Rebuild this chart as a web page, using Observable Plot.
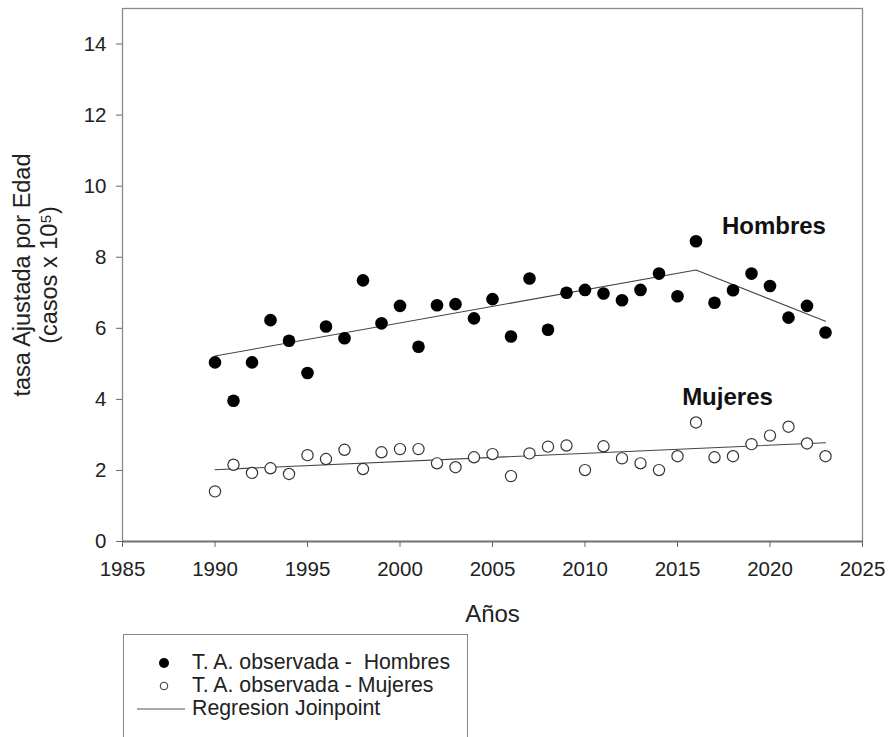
<!DOCTYPE html>
<html><head><meta charset="utf-8">
<script src="https://cdn.jsdelivr.net/npm/d3@7"></script>
<script src="https://cdn.jsdelivr.net/npm/@observablehq/plot@0.6"></script>
<style>
body{margin:0;background:#fff;font-family:"Liberation Sans",Arial,sans-serif;}
#wrap{position:relative;width:889px;height:737px;overflow:hidden;background:#fff;}
#legend{position:absolute;left:123px;top:634px;width:345px;height:130px;border:1.3px solid #888;box-sizing:border-box;font-size:21.3px;color:#222;}
.row{position:absolute;left:0;height:23px;line-height:23px;white-space:pre;}
.row span.t{position:absolute;left:68px;}
.sym{position:absolute;}
</style></head>
<body><div id="wrap"><div id="chart"></div><div id="legend"></div></div>
<script>
const years = [1990,1991,1992,1993,1994,1995,1996,1997,1998,1999,2000,2001,2002,2003,2004,2005,2006,2007,2008,2009,2010,2011,2012,2013,2014,2015,2016,2017,2018,2019,2020,2021,2022,2023];
const hombres = [5.04,3.96,5.04,6.23,5.65,4.74,6.05,5.72,7.35,6.14,6.63,5.48,6.65,6.68,6.28,6.82,5.77,7.40,5.96,7.00,7.08,6.98,6.79,7.08,7.54,6.90,8.45,6.72,7.07,7.54,7.19,6.30,6.63,5.88];
const mujeres = [1.41,2.16,1.93,2.06,1.90,2.43,2.32,2.58,2.04,2.51,2.60,2.60,2.20,2.09,2.37,2.46,1.84,2.48,2.67,2.70,2.01,2.68,2.34,2.20,2.01,2.40,3.35,2.37,2.40,2.74,2.98,3.23,2.76,2.40];
const regYearsH = [1990, 2016, 2023];
const regH = [5.22, 7.64, 6.20];
const regYearsM = [1990, 2023];
const regM = [2.02, 2.78];
const xTicks = [1985,1990,1995,2000,2005,2010,2015,2020,2025];
const yTicks = [0,2,4,6,8,10,12,14];
const seriesNames = ["Hombres", "Mujeres"];
const seriesLabelYear = [2017.4, 2015.25];
const seriesLabelValue = [8.65, 3.85];
const yLabel = "tasa Ajustada por Edad\n(casos x 10\u2075)";
const xLabel = "Años";
const legendItems = ["T. A. observada -  Hombres", "T. A. observada - Mujeres", "Regresion Joinpoint"];

const ptsH = years.map((y,i)=>({year:y, v:hombres[i]}));
const ptsM = years.map((y,i)=>({year:y, v:mujeres[i]}));
const lnH = regYearsH.map((y,i)=>({year:y, v:regH[i]}));
const lnM = regYearsM.map((y,i)=>({year:y, v:regM[i]}));
const lbls = seriesNames.map((n,i)=>({n, year:seriesLabelYear[i], v:seriesLabelValue[i]}));

const chart = Plot.plot({
  width: 889, height: 634,
  marginLeft: 122, marginRight: 27, marginTop: 8, marginBottom: 93,
  style: {fontFamily: '"Liberation Sans", Arial, sans-serif', fontSize: "20.5px", color: "#222", background: "#fff"},
  x: {domain: [1985, 2025]},
  y: {domain: [0, 15]},
  marks: [
    Plot.frame({stroke: "#8a8a8a", strokeWidth: 1.3}),
    Plot.ruleY([0], {stroke: "#777", strokeWidth: 1.8}),
    Plot.axisX({ticks: xTicks, tickFormat: "d", tickSize: 6, tickPadding: 14, stroke: "#666", label: null}),
    Plot.axisY({ticks: yTicks, tickFormat: "d", tickSize: 6, tickPadding: 10, stroke: "#666", label: null}),
    Plot.line(lnM, {x: "year", y: "v", stroke: "#444", strokeWidth: 1.1}),
    Plot.line(lnH, {x: "year", y: "v", stroke: "#444", strokeWidth: 1.1}),
    Plot.dot(ptsM, {x: "year", y: "v", r: 5.6, fill: "white", stroke: "#333", strokeWidth: 1.2}),
    Plot.dot(ptsH, {x: "year", y: "v", r: 6.3, fill: "black", stroke: "none"}),
    Plot.text(lbls, {x: "year", y: "v", text: "n", textAnchor: "start", lineAnchor: "bottom", fontSize: 24, fontWeight: "bold", fill: "#111"}),
    Plot.text([yLabel], {frameAnchor: "left", dx: -88, rotate: -90, lineAnchor: "middle", textAnchor: "middle", fontSize: 23.5, lineHeight: 1.15, fill: "#222"}),
    Plot.text([xLabel], {frameAnchor: "bottom", dy: 73, lineAnchor: "middle", fontSize: 24, fill: "#222"})
  ]
});
document.getElementById("chart").appendChild(chart);

const lg = document.getElementById("legend");
const tops = [16, 39, 62];
legendItems.forEach((t,i)=>{
  const row = document.createElement("div");
  row.className = "row";
  row.style.top = tops[i] + "px";
  row.style.width = "340px";
  let sym = "";
  if (i === 0) sym = '<svg class="sym" style="left:34px;top:6px" width="12" height="12"><circle cx="6" cy="6" r="5" fill="black"/></svg>';
  else if (i === 1) sym = '<svg class="sym" style="left:35px;top:7px" width="10" height="10"><circle cx="5" cy="5" r="3.8" fill="white" stroke="#333" stroke-width="1"/></svg>';
  else sym = '<svg class="sym" style="left:13px;top:11px" width="48" height="2"><line x1="0" y1="1" x2="48" y2="1" stroke="#555" stroke-width="1"/></svg>';
  row.innerHTML = sym + '<span class="t"></span>';
  row.querySelector(".t").textContent = t;
  lg.appendChild(row);
});
</script>
</body></html>
